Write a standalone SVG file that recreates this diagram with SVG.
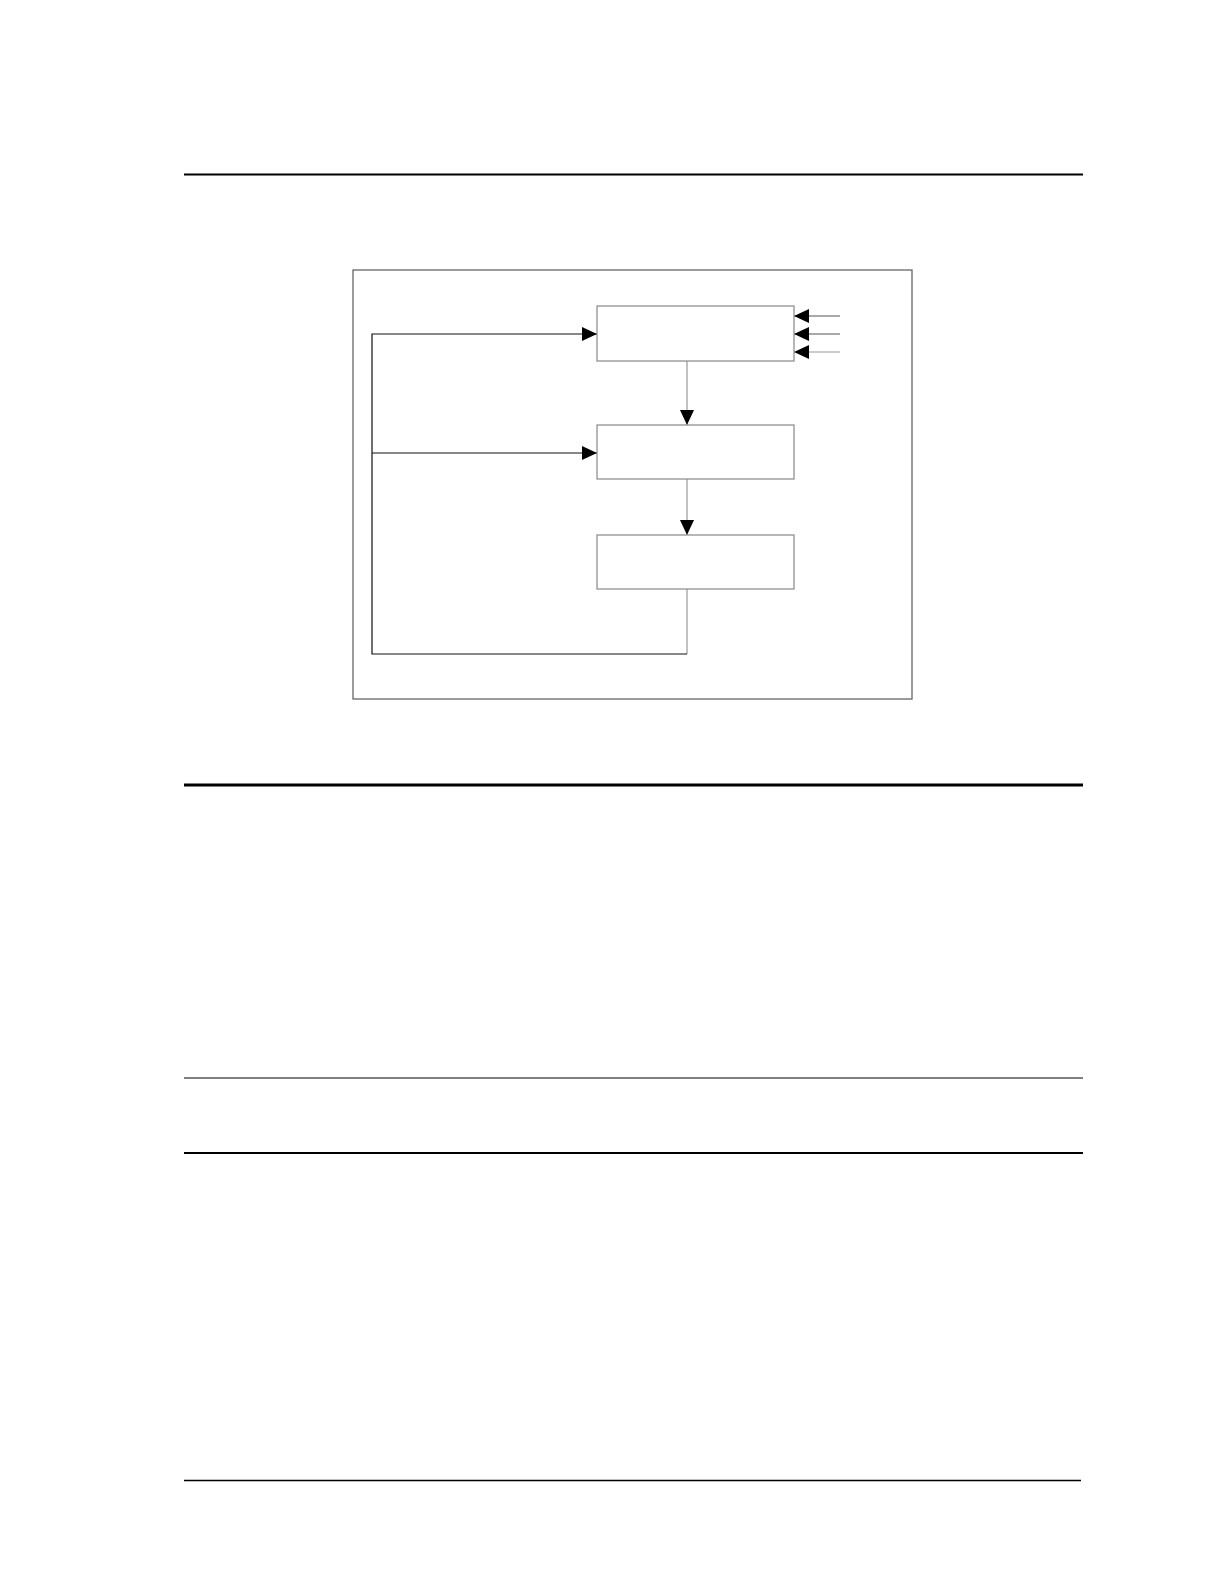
<svg xmlns="http://www.w3.org/2000/svg" width="1224" height="1584" viewBox="0 0 1224 1584">
<style>
.rule{stroke:#000;fill:none}
.frame{fill:#fff;stroke:#666;stroke-width:1.3}
.box{fill:#fff;stroke:#888;stroke-width:1.2}
.dark{stroke:#111;stroke-width:1.2;fill:none}
.mid{stroke:#555;stroke-width:1.2;fill:none}
.grey{stroke:#999;stroke-width:1.2;fill:none}
</style>
<defs>
<marker id="ah" viewBox="0 0 15 14" refX="15" refY="7" markerWidth="15" markerHeight="14" markerUnits="userSpaceOnUse" orient="auto">
<path d="M0,0 L15,7 L0,14 Z" fill="#000"/>
</marker>
</defs>
<rect width="1224" height="1584" fill="#fff"/>
<g id="rules">
<line class="rule" x1="184" y1="174.5" x2="1083" y2="174.5" stroke-width="2.2"/>
<line class="rule" x1="184" y1="785" x2="1083" y2="785" stroke-width="3"/>
<line class="rule" x1="184" y1="1078" x2="1083" y2="1078" stroke-width="1"/>
<line class="rule" x1="184" y1="1153" x2="1083" y2="1153" stroke-width="2"/>
<line class="rule" x1="184" y1="1480.5" x2="1081" y2="1480.5" stroke-width="1.5"/>
</g>
<rect id="frame" class="frame" x="353" y="270" width="559" height="429"/>
<g id="connectors">
<line class="grey" x1="687" y1="589" x2="687" y2="654"/>
<polyline class="dark" points="687,654 372,654 372,334 597,334" marker-end="url(#ah)"/>
<line class="dark" x1="372" y1="453" x2="597" y2="453" marker-end="url(#ah)"/>
<line class="grey" x1="687" y1="361" x2="687" y2="425" marker-end="url(#ah)"/>
<line class="grey" x1="687" y1="479" x2="687" y2="535" marker-end="url(#ah)"/>
<line class="mid" x1="840" y1="316" x2="794" y2="316" marker-end="url(#ah)"/>
<line class="mid" x1="840" y1="334" x2="794" y2="334" marker-end="url(#ah)"/>
<line class="grey" x1="840" y1="352" x2="794" y2="352" marker-end="url(#ah)"/>
</g>
<g id="node1"><rect class="box" x="597" y="306" width="197" height="55"/></g>
<g id="node2"><rect class="box" x="597" y="425" width="197" height="54"/></g>
<g id="node3"><rect class="box" x="597" y="535" width="197" height="54"/></g>
</svg>
